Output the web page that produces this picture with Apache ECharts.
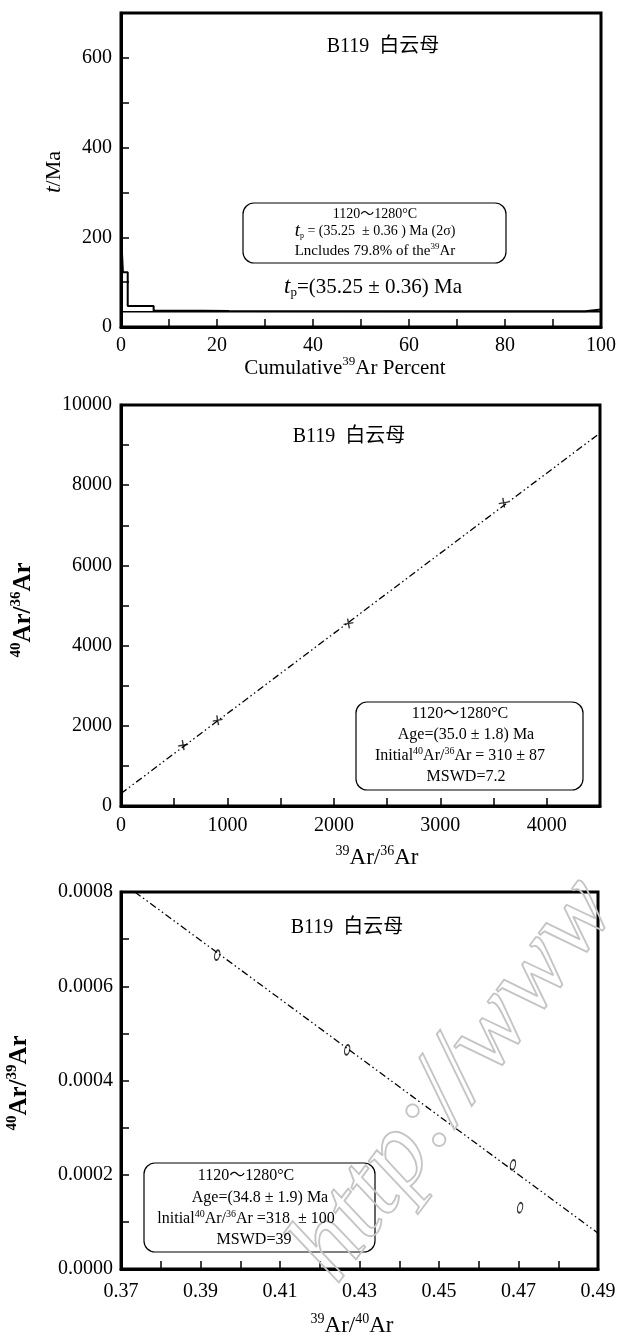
<!DOCTYPE html>
<html>
<head>
<meta charset="utf-8">
<title>B119 白云母 Ar-Ar</title>
<script src="https://cdn.jsdelivr.net/npm/echarts@6/dist/echarts.min.js"></script>
<style>
  html, body { margin: 0; padding: 0; background: #fff; }
  #main { width: 619px; height: 1338px; }
</style>
</head>
<body>
<div id="main"></div>
<script>
// age spectrum: cumulative 39Ar percent vs apparent age (Ma)
const spectrumPct = [0, 0, 0.4, 1.4, 6.8, 17.0, 22.5, 71.5, 96.7, 100];
const spectrumAge = [0, 210, 122, 47, 36, 35.6, 35.3, 35.0, 39, 39];
const spectrumLowPct = [0.4, 100];
const spectrumLowAge = [34.2, 34.2];

// normal isochron 40Ar/36Ar vs 39Ar/36Ar
const isoX = [584, 908, 2137, 3595];
const isoY = [1517, 2139, 4552, 7562];
const isoFitX = [0, 4500];
const isoFitY = [310, 9300];

// inverse isochron
const invX = [0.3942, 0.4269, 0.4686, 0.4704];
const invY = [0.000666, 0.000465, 0.000221, 0.000130];
const invFitX = [0.3735, 0.49];
const invFitY = [0.0008, 0.000076];

// tick labels
const ageLabels = ['0', '200', '400', '600'];
const pctLabels = ['0', '20', '40', '60', '80', '100'];
const isoYLabels = ['0', '2000', '4000', '6000', '8000', '10000'];
const isoXLabels = ['0', '1000', '2000', '3000', '4000'];
const invYLabels = ['0.0000', '0.0002', '0.0004', '0.0006', '0.0008'];
const invXLabels = ['0.37', '0.39', '0.41', '0.43', '0.45', '0.47', '0.49'];

const FONT = '"Liberation Serif", "Noto Sans CJK SC", serif';
const DASH = [7, 3, 1.5, 3, 1.5, 3];

function frameAxis(idx, min, max, step, labels, digits, margin) {
  return {
    type: 'value', gridIndex: idx, min: min, max: max, interval: step,
    axisLine: { show: true, onZero: false, lineStyle: { color: '#000', width: 3 } },
    axisTick: { show: true, inside: true, length: 8, lineStyle: { color: '#000', width: 1.5 } },
    splitLine: { show: false },
    axisLabel: {
      color: '#000', fontSize: 20, fontFamily: FONT, margin: margin || 9,
      formatter: function (v) {
        const s = v.toFixed(digits);
        return labels.indexOf(s) >= 0 ? s : '';
      }
    }
  };
}

function rich(size, weight, iScale) {
  return {
    sup: { fontSize: Math.round(size * 0.6), fontFamily: FONT, fontWeight: weight, verticalAlign: 'top', lineHeight: Math.round(size * 0.75) },
    sub: { fontSize: Math.round(size * 0.6), fontFamily: FONT, fontWeight: weight, verticalAlign: 'bottom', lineHeight: Math.round(size * 0.7) },
    i: { fontSize: Math.round(size * (iScale || 1.1)), fontFamily: FONT, fontStyle: 'italic', fontWeight: weight }
  };
}

function txt(x, y, text, size, opts) {
  opts = opts || {};
  const weight = opts.bold ? 'bold' : 'normal';
  return {
    type: 'text', x: x, y: y, z: 100, rotation: opts.rotation || 0,
    style: {
      text: text, fontSize: size, fontFamily: FONT, fontWeight: weight,
      fill: '#000', align: 'center', verticalAlign: 'middle',
      lineHeight: Math.round(size * 1.2), rich: rich(size, weight, opts.iScale)
    }
  };
}

function box(x, y, w, h) {
  return {
    type: 'rect', z: 90, shape: { x: x, y: y, width: w, height: h, r: 11 },
    style: { fill: '#fff', stroke: '#000', lineWidth: 1.2 }
  };
}

function pairs(xs, ys) {
  return xs.map(function (x, i) { return [x, ys[i]]; });
}

const gridBase = { show: true, borderColor: '#000', borderWidth: 3, backgroundColor: 'transparent' };

const chart = echarts.init(document.getElementById('main'));
chart.setOption({
  animation: false,
  backgroundColor: '#fff',
  grid: [
    Object.assign({ left: 121, top: 13, width: 480, height: 314 }, gridBase),
    Object.assign({ left: 121, top: 405, width: 479, height: 401 }, gridBase),
    Object.assign({ left: 121, top: 892, width: 477, height: 377 }, gridBase)
  ],
  xAxis: [
    frameAxis(0, 0, 100, 10, pctLabels, 0),
    frameAxis(1, 0, 4500, 500, isoXLabels, 0, 10),
    frameAxis(2, 0.37, 0.49, 0.01, invXLabels, 2, 13)
  ],
  yAxis: [
    frameAxis(0, 0, 700, 100, ageLabels, 0),
    frameAxis(1, 0, 10000, 1000, isoYLabels, 0),
    frameAxis(2, 0, 0.0008, 0.0001, invYLabels, 4, 8)
  ],
  series: [
    {
      type: 'line', xAxisIndex: 0, yAxisIndex: 0, step: 'end', showSymbol: false,
      data: pairs(spectrumPct, spectrumAge),
      lineStyle: { color: '#000', width: 2 }
    },
    {
      type: 'line', xAxisIndex: 0, yAxisIndex: 0, showSymbol: false,
      data: pairs(spectrumLowPct, spectrumLowAge),
      lineStyle: { color: '#000', width: 1.5 }
    },
    {
      type: 'line', xAxisIndex: 1, yAxisIndex: 1, showSymbol: false,
      data: pairs(isoFitX, isoFitY),
      lineStyle: { color: '#000', width: 1.3, type: DASH }
    },
    {
      type: 'scatter', xAxisIndex: 1, yAxisIndex: 1,
      symbol: 'path://M4.3,0H5.7V4.3H10V5.7H5.7V10H4.3V5.7H0V4.3H4.3Z', symbolSize: 10, symbolRotate: 10,
      data: pairs(isoX, isoY),
      itemStyle: { color: '#000' }
    },
    {
      type: 'line', xAxisIndex: 2, yAxisIndex: 2, showSymbol: false,
      data: pairs(invFitX, invFitY),
      lineStyle: { color: '#000', width: 1.3, type: DASH }
    },
    {
      type: 'scatter', xAxisIndex: 2, yAxisIndex: 2,
      symbol: 'circle', symbolSize: [5, 10], symbolRotate: -12,
      data: pairs(invX, invY),
      itemStyle: { color: 'rgba(0,0,0,0)', borderColor: '#000', borderWidth: 1.4 }
    }
  ],
  graphic: [
    // watermark, drawn over the info box like in the scan
    {
      type: 'text', x: 455, y: 1080, z: 95, rotation: 0.93,
      style: {
        text: 'http://www', fontSize: 106, fontFamily: FONT, fontStyle: 'italic',
        fill: 'rgba(255,255,255,0)', stroke: '#c4c4c4', lineWidth: 1.8,
        align: 'center', verticalAlign: 'middle'
      }
    },

    // age spectrum
    txt(383, 47, 'B119  白云母', 20),
    box(243, 203, 263, 60),
    txt(375, 214, '1120～1280°C', 14),
    txt(375, 231, '{i|t}{sub|p} = (35.25  ± 0.36 ) Ma (2σ)', 14, { iScale: 1.35 }),
    txt(375, 251, 'Lncludes 79.8% of the{sup|39}Ar', 15),
    txt(373, 287, '{i|t}{sub|p}=(35.25 ± 0.36) Ma', 21),
    txt(54, 172, '{i|t}/Ma', 22, { rotation: Math.PI / 2 }),
    txt(345, 368, 'Cumulative{sup|39}Ar Percent', 21),

    // normal isochron
    txt(349, 437, 'B119  白云母', 20),
    box(356, 702, 227, 88),
    txt(460, 714, '1120～1280°C', 16),
    txt(466, 735, 'Age=(35.0 ± 1.8) Ma', 16),
    txt(460, 756, 'Initial{sup|40}Ar/{sup|36}Ar = 310 ± 87', 16),
    txt(466, 777, 'MSWD=7.2', 16),
    txt(24, 610, '{sup|40}Ar/{sup|36}Ar', 25, { rotation: Math.PI / 2, bold: true }),
    txt(377, 858, '{sup|39}Ar/{sup|36}Ar', 23),

    // inverse isochron
    txt(347, 928, 'B119  白云母', 20),
    box(144, 1163, 231, 89),
    txt(246, 1176, '1120～1280°C', 16),
    txt(260, 1198, 'Age=(34.8 ± 1.9) Ma', 16),
    txt(246, 1219, 'lnitial{sup|40}Ar/{sup|36}Ar =318  ± 100', 16),
    txt(254, 1240, 'MSWD=39', 16),
    txt(20, 1083, '{sup|40}Ar/{sup|39}Ar', 25, { rotation: Math.PI / 2, bold: true }),
    txt(352, 1326, '{sup|39}Ar/{sup|40}Ar', 23)
  ]
});
</script>
</body>
</html>
